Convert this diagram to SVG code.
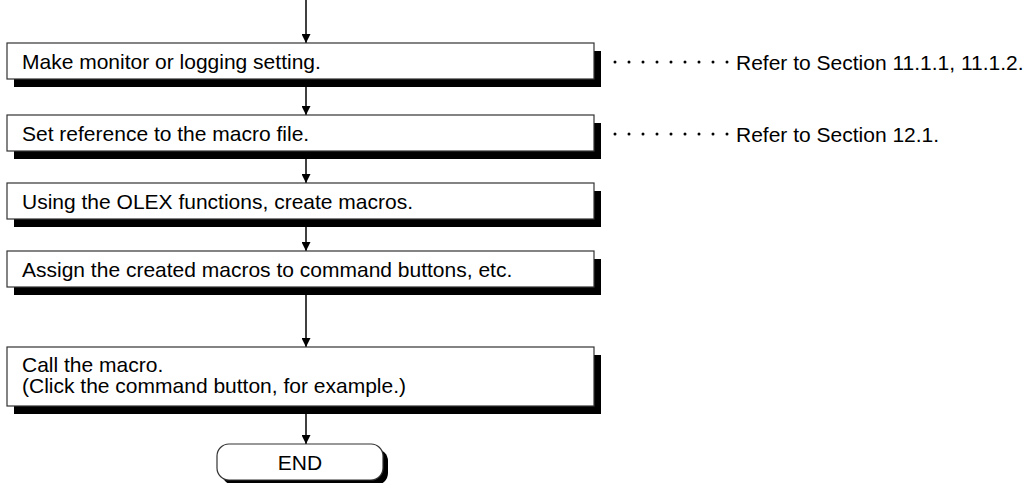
<svg xmlns="http://www.w3.org/2000/svg" width="1030" height="483" viewBox="0 0 1030 483">
<defs>
<style>
.box{fill:#fff;stroke:#333;stroke-width:1.2}
.sh{fill:#000}
.t{font-family:"Liberation Sans",Arial,Helvetica,sans-serif;font-size:21px;fill:#000}
.ln{stroke:#000;stroke-width:1.5;fill:none}
.dot{fill:#000}
</style>
<marker id="ah" viewBox="0 0 10 10" refX="10" refY="5" markerWidth="9" markerHeight="9" markerUnits="userSpaceOnUse" orient="auto">
<path d="M0,0 L10,5 L0,10 Z" fill="#000"/>
</marker>
</defs>
<g id="connectors">
<line class="ln" x1="306" y1="0" x2="306" y2="43" marker-end="url(#ah)"/>
<line class="ln" x1="306" y1="87" x2="306" y2="115" marker-end="url(#ah)"/>
<line class="ln" x1="306" y1="159" x2="306" y2="183" marker-end="url(#ah)"/>
<line class="ln" x1="306" y1="227" x2="306" y2="251" marker-end="url(#ah)"/>
<line class="ln" x1="306" y1="295" x2="306" y2="347" marker-end="url(#ah)"/>
<line class="ln" x1="306" y1="414" x2="306" y2="444" marker-end="url(#ah)"/>
</g>
<g id="node1">
<rect class="sh" x="14" y="51" width="587" height="36"/>
<rect class="box" x="7" y="43" width="587" height="36"/>
<text class="t" x="22" y="68.5">Make monitor or logging setting.</text>
</g>
<g id="note1">
<g class="dot"><circle cx="615" cy="62" r="1.5"/><circle cx="629" cy="62" r="1.5"/><circle cx="643" cy="62" r="1.5"/><circle cx="657" cy="62" r="1.5"/><circle cx="671" cy="62" r="1.5"/><circle cx="685" cy="62" r="1.5"/><circle cx="699" cy="62" r="1.5"/><circle cx="713" cy="62" r="1.5"/><circle cx="727" cy="62" r="1.5"/></g>
<text class="t" x="736" y="69.5">Refer to Section 11.1.1, 11.1.2.</text>
</g>
<g id="node2">
<rect class="sh" x="14" y="123" width="587" height="36"/>
<rect class="box" x="7" y="115" width="587" height="36"/>
<text class="t" x="22" y="140.5">Set reference to the macro file.</text>
</g>
<g id="note2">
<g class="dot"><circle cx="615" cy="134" r="1.5"/><circle cx="629" cy="134" r="1.5"/><circle cx="643" cy="134" r="1.5"/><circle cx="657" cy="134" r="1.5"/><circle cx="671" cy="134" r="1.5"/><circle cx="685" cy="134" r="1.5"/><circle cx="699" cy="134" r="1.5"/><circle cx="713" cy="134" r="1.5"/><circle cx="727" cy="134" r="1.5"/></g>
<text class="t" x="736" y="141.5">Refer to Section 12.1.</text>
</g>
<g id="node3">
<rect class="sh" x="14" y="191" width="587" height="36"/>
<rect class="box" x="7" y="183" width="587" height="36"/>
<text class="t" x="22" y="208.5">Using the OLEX functions, create macros.</text>
</g>
<g id="node4">
<rect class="sh" x="14" y="259" width="587" height="36"/>
<rect class="box" x="7" y="251" width="587" height="36"/>
<text class="t" x="22" y="276.5">Assign the created macros to command buttons, etc.</text>
</g>
<g id="node5">
<rect class="sh" x="14" y="355" width="587" height="59"/>
<rect class="box" x="7" y="347" width="587" height="59"/>
<text class="t" x="22" y="372">Call the macro.</text>
<text class="t" x="22" y="393">(Click the command button, for example.)</text>
</g>
<g id="end">
<rect class="sh" x="222" y="449" width="166" height="36" rx="12"/>
<rect class="box" x="217" y="444" width="166" height="36" rx="12"/>
<text class="t" x="300" y="470" text-anchor="middle">END</text>
</g>
</svg>
